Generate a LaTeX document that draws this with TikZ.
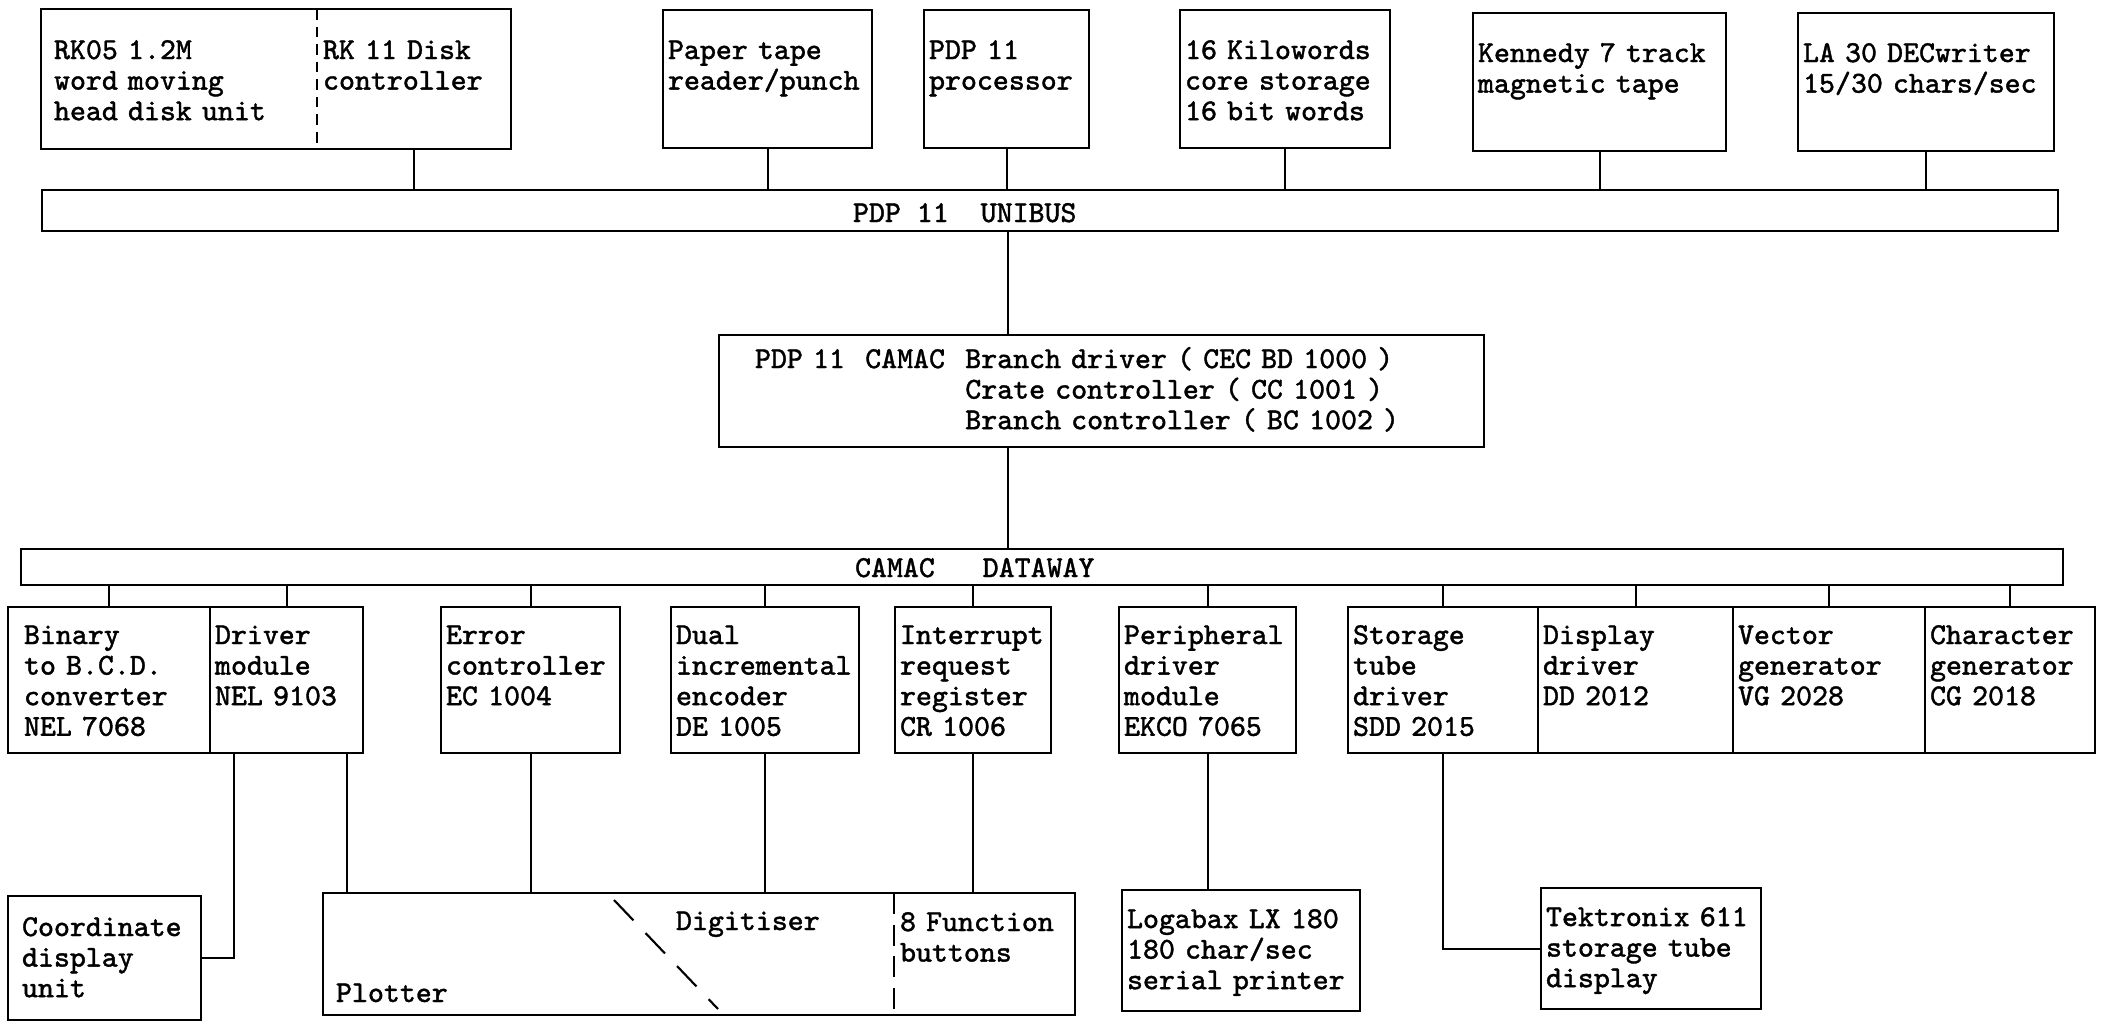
\documentclass[tikz,border=0pt]{standalone}
\usepackage{fontspec}
\newfontfamily\typefont[FakeBold=1.2]{Latin Modern Mono}
\begin{document}
\begin{tikzpicture}[
    line width=0.6pt,
    unit/.style={draw, anchor=north west, align=left, inner xsep=0.05cm, inner ysep=0pt,
        text height=0.37cm, font=\typefont\fontsize{8.65pt}{8.7pt}\selectfont},
    top_unit/.style={unit, text height=0.49cm, text depth=0.89cm},
    module/.style={unit, text depth=1.09cm},
    half/.style={anchor=north west, inner sep=0pt},
    bus/.style={draw, anchor=north west, inner sep=0pt},
    caption/.style={anchor=base west, inner sep=0pt, font=\typefont\fontsize{8.65pt}{8.7pt}\selectfont},
    split_line/.style={dash pattern=on 3pt off 2pt},
    plot_line/.style={dash pattern=on 6pt off 3pt},
    diag_line/.style={dash pattern=on 8pt off 5pt}
]
\useasboundingbox (0,0) rectangle (21.03,-10.24);

% Unibus peripherals
\node[top_unit, draw=none, inner xsep=0.12cm, text width=2.52cm] (rk05) at (0.41,-0.09) {RK05 1.2M\\word moving\\head disk unit};
\node[top_unit, draw=none, text width=1.82cm] (rk11) at (3.17,-0.09) {RK 11 Disk\\controller};
\node[top_unit, text width=1.99cm] (paper) at (6.62,-0.09) {Paper tape\\reader/punch};
\node[top_unit, text width=1.55cm] (proc) at (9.23,-0.09) {PDP 11\\processor};
\node[top_unit, text width=2.00cm] (core) at (11.79,-0.09) {16 Kilowords\\core storage\\16 bit words};
\node[top_unit, text width=2.43cm] (kennedy) at (14.72,-0.12) {Kennedy 7 track\\magnetic tape};
\node[top_unit, text width=2.46cm] (la30) at (17.97,-0.12) {LA 30 DECwriter\\15/30 chars/sec};
\draw (rk05.north west) rectangle (rk11.south east);
\draw[split_line] (rk11.north west) -- (rk11.south west);

% Unibus
\node[bus, minimum width=20.16cm, minimum height=0.41cm] (unibus) at (0.41,-1.89) {};
\node[caption] (unibuslbl) at (8.52,-2.22) {PDP~11~~UNIBUS};

% Camac interface
\node[unit, text width=7.55cm, text height=0.33cm, text depth=0.79cm] (camac) at (7.18,-3.34)
    {\hspace*{0.31cm}PDP~11~~CAMAC~~Branch driver ( CEC BD 1000 )\\
     \hspace*{0.31cm}\hphantom{PDP~11~~CAMAC~~}Crate controller ( CC 1001 )\\
     \hspace*{0.31cm}\hphantom{PDP~11~~CAMAC~~}Branch controller ( BC 1002 )};

% Dataway
\node[bus, minimum width=20.42cm, minimum height=0.36cm] (dataway) at (0.20,-5.48) {};
\node[caption] (datawaylbl) at (8.54,-5.77) {CAMAC~~~DATAWAY};

% Camac modules
\node[module, inner xsep=0.16cm, text width=1.70cm] (binary) at (0.07,-6.06) {Binary\\to B.C.D.\\converter\\NEL 7068};
\node[module, text width=1.43cm] (driver) at (2.09,-6.06) {Driver\\module\\NEL 9103};
\node[module, text width=1.69cm] (error) at (4.40,-6.06) {Error\\controller\\EC 1004};
\node[module, text width=1.78cm] (dual) at (6.70,-6.06) {Dual\\incremental\\encoder\\DE 1005};
\node[module, text width=1.46cm] (intr) at (8.94,-6.06) {Interrupt\\request\\register\\CR 1006};
\node[module, text width=1.67cm] (periph) at (11.18,-6.06) {Peripheral\\driver\\module\\EKCO 7065};
\node[module, text width=1.80cm] (storage) at (13.47,-6.06) {Storage\\tube\\driver\\SDD 2015};
\node[module, text width=1.85cm] (display) at (15.37,-6.06) {Display\\driver\\DD 2012};
\node[module, text width=1.82cm] (vector) at (17.32,-6.06) {Vector\\generator\\VG 2028};
\node[module, text width=1.60cm] (chargen) at (19.24,-6.06) {Character\\generator\\CG 2018};

% Devices
\node[unit, inner xsep=0.14cm, text width=1.65cm, text height=0.40cm, text depth=0.84cm] (coord) at (0.07,-8.95) {Coordinate\\display\\unit};
\node[half, minimum width=5.71cm, minimum height=1.20cm] (plotdig) at (3.23,-8.93) {};
\node[unit, draw=none, text width=1.69cm, text depth=0.83cm] (fbuttons) at (8.94,-8.93) {8 Function\\buttons};
\draw (plotdig.north west) rectangle (fbuttons.south east);
\draw[plot_line] (fbuttons.north west) -- (fbuttons.south west);
\draw[diag_line] (6.14,-9.00) -- (7.18,-10.09);
\node[caption] (digitiser) at (6.75,-9.30) {Digitiser};
\node[caption] (plotter) at (3.35,-10.02) {Plotter};
\node[unit, text width=2.28cm, text height=0.38cm, text depth=0.83cm] (logabax) at (11.21,-8.89) {Logabax LX 180\\180 char/sec\\serial printer};
\node[unit, text width=2.10cm, text height=0.38cm, text depth=0.83cm] (tek) at (15.40,-8.87) {Tektronix 611\\storage tube\\display};

% Unibus connections
\foreach \n in {rk11,paper,proc,core,kennedy,la30}
    \draw (\n.south) -- (\n.south |- unibus.north);

% Camac crate
\coordinate (camacx) at (10.08,0);
\draw (unibus.south -| camacx) -- (camac.north -| camacx);
\draw (camac.south -| camacx) -- (dataway.north -| camacx);

% Dataway connections
\foreach \n in {binary,driver,error,dual,intr,periph,storage,display,vector,chargen}
    \draw (dataway.south -| \n.north) -- (\n.north);

% Device connections
\draw ([xshift=-0.53cm]driver.south) |- (coord.east);
\coordinate (plotin) at ([xshift=-0.17cm]driver.south east);
\draw (plotin) -- (plotin |- plotdig.north);
\foreach \n in {error,dual}
    \draw (\n.south) -- (\n.south |- plotdig.north);
\draw (intr.south) -- (intr.south |- fbuttons.north);
\draw (periph.south) -- (periph.south |- logabax.north);
\draw (storage.south) |- (tek.west);

\end{tikzpicture}
\end{document}
